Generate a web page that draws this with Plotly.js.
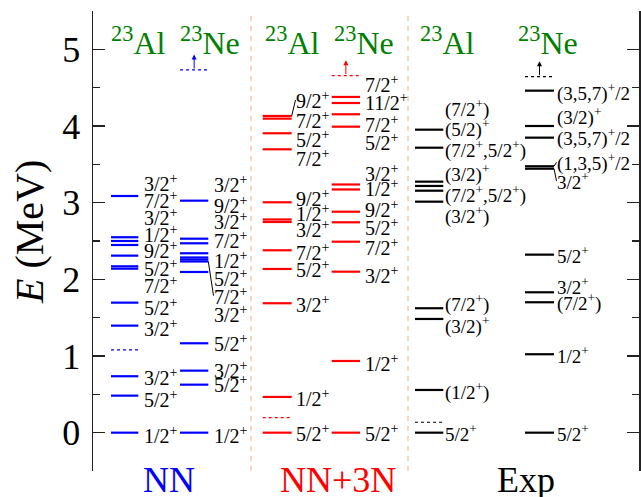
<!DOCTYPE html>
<html><head><meta charset="utf-8">
<script src="https://cdn.plot.ly/plotly-3.0.1.min.js"></script>
<style>html,body{margin:0;padding:0;background:#fff}#chart{width:641px;height:497px}</style>
</head><body><div id="chart"></div>
<script>
// ---------------- data (MeV) ----------------
// NN, 23Al
const nnAlE      = [0, 0.483, 0.736, 1.396, 1.696, 2.139, 2.170, 2.309, 2.448, 2.500, 2.549, 3.087];
const nnAlJ      = ['1/2+','5/2+','3/2+','3/2+','5/2+','7/2+','5/2+','9/2+','1/2+','3/2+','7/2+','3/2+'];
const nnAlLabelE = [-0.03, 0.443, 0.730, 1.362, 1.643, 1.926, 2.144, 2.383, 2.588, 2.813, 3.035, 3.257];
const nnAlThr = 1.079;
// NN, 23Ne
const nnNeE      = [0, 0.626, 0.809, 1.166, 2.096, 2.233, 2.259, 2.285, 2.340, 2.470, 2.530, 3.026];
const nnNeJ      = ['1/2+','5/2+','3/2+','5/2+','3/2+','7/2+','5/2+','1/2+','7/2+','3/2+','9/2+','3/2+'];
const nnNeLabelE = [-0.03, 0.631, 0.818, 1.174, 1.552, 1.787, 2.022, 2.256, 2.513, 2.765, 2.970, 3.248];
const nnNeThr = 4.731;
// NN+3N, 23Al
const n3AlE      = [0, 0.466, 1.688, 2.135, 2.379, 2.748, 2.781, 3.005, 3.696, 3.905, 4.096, 4.131];
const n3AlJ      = ['5/2+','1/2+','3/2+','5/2+','7/2+','3/2+','1/2+','9/2+','7/2+','5/2+','7/2+','9/2+'];
const n3AlLabelE = [-0.004, 0.456, 1.683, 2.135, 2.353, 2.653, 2.862, 3.057, 3.587, 3.831, 4.079, 4.339];
const n3AlThr = 0.196;
// NN+3N, 23Ne
const n3NeE      = [0, 0.935, 2.100, 2.491, 2.744, 2.882, 3.172, 3.237, 3.991, 4.153, 4.300, 4.379];
const n3NeJ      = ['5/2+','1/2+','3/2+','7/2+','5/2+','9/2+','1/2+','3/2+','5/2+','7/2+','11/2+','7/2+'];
const n3NeLabelE = [-0.004, 0.905, 2.057, 2.422, 2.683, 2.922, 3.188, 3.383, 3.792, 4.030, 4.317, 4.552];
const n3NeThr = 4.656;
// Exp, 23Al
const expAlE      = [0, 0.557, 1.483, 1.623, 3.013, 3.156, 3.218, 3.274, 3.717, 3.952];
const expAlJ      = ['5/2+','(1/2+)','(3/2)+','(7/2+)','(3/2+)','(7/2+,5/2+)','(3/2)+','(7/2+,5/2+)','(5/2)+','(7/2+)'];
const expAlLabelE = [-0.008, 0.535, 1.401, 1.679, 2.830, 3.109, 3.374, 3.700, 3.965, 4.222];
const expAlThr = 0.136;
// Exp, 23Ne
const expNeE      = [0, 1.023, 1.701, 1.831, 2.322, 3.443, 3.475, 3.848, 4.000, 4.461];
const expNeJ      = ['5/2+','1/2+','(7/2+)','3/2+','5/2+','3/2+','(1,3,5)+/2','(3,5,7)+/2','(3/2)+','(3,5,7)+/2'];
const expNeLabelE = [-0.008, 1.013, 1.701, 1.917, 2.318, 3.283, 3.527, 3.853, 4.118, 4.440];
const expNeThr = 4.643;

const yTicks = [0, 1, 2, 3, 4, 5];
const groupNames = ['NN', 'NN+3N', 'Exp'];
const nucleusNames = ['<sup>23</sup>Al', '<sup>23</sup>Ne'];

// ---------------- layout config ----------------
const FONT = 'Liberation Serif, Times New Roman, serif';
const BLUE = '#0000ff', RED = '#ff0000', BLACK = '#000000', GREEN = '#008000';
const cols = [
  {E: nnAlE, J: nnAlJ, L: nnAlLabelE, thr: nnAlThr, arrow: false, x0: 18,  x1: 45.3, lx: 50,  color: BLUE,  fs: 20, links: [], head: 45},
  {E: nnNeE, J: nnNeJ, L: nnNeLabelE, thr: nnNeThr, arrow: true,  x0: 87,  x1: 115.3, lx: 120, color: BLUE, fs: 20, links: [5], head: 117},
  {E: n3AlE, J: n3AlJ, L: n3AlLabelE, thr: n3AlThr, arrow: false, x0: 169.7, x1: 198.7, lx: 202, color: RED, fs: 20, links: [11], head: 199},
  {E: n3NeE, J: n3NeJ, L: n3NeLabelE, thr: n3NeThr, arrow: true,  x0: 238.7, x1: 267, lx: 271, color: RED,  fs: 20, links: [], head: 271},
  {E: expAlE, J: expAlJ, L: expAlLabelE, thr: expAlThr, arrow: false, x0: 322, x1: 350.3, lx: 351, color: BLACK, fs: 19, links: [], head: 354},
  {E: expNeE, J: expNeJ, L: expNeLabelE, thr: expNeThr, arrow: true,  x0: 432, x1: 461, lx: 463, color: BLACK, fs: 19, links: [5, 6], head: 455}
];
const groupX = [76, 245, 433];
const sepX = [158, 315];
const ARROW_LEN = 0.2;

function jp(s) { return s.replace(/\+/g, '<sup>+</sup>'); }

const traces = [];
const annotations = [];
cols.forEach((c, ci) => {
  const xs = [], ys = [];
  c.E.forEach(e => { xs.push(c.x0, c.x1, null); ys.push(e, e, null); });
  traces.push({x: xs, y: ys, mode: 'lines', line: {color: c.color, width: 2.2}, hoverinfo: 'skip', showlegend: false});
  traces.push({x: [c.x0, c.x1], y: [c.thr, c.thr], mode: 'lines', line: {color: c.color, width: 1.2, dash: 'dot'}, hoverinfo: 'skip', showlegend: false});
  if (c.links.length) {
    const lx = [], ly = [];
    c.links.forEach(i => { lx.push(c.x1, c.lx + 0.5, null); ly.push(c.E[i], c.L[i], null); });
    traces.push({x: lx, y: ly, mode: 'lines', line: {color: '#000', width: 1}, hoverinfo: 'skip', showlegend: false});
  }
  c.J.forEach((j, i) => {
    annotations.push({x: c.lx, y: c.L[i], xref: 'x', yref: 'y', text: jp(j), showarrow: false,
      xanchor: 'left', yanchor: 'middle', font: {family: FONT, size: c.fs, color: '#000'}, borderpad: 0});
  });
  if (c.arrow) {
    const xm = (c.x0 + c.x1) / 2;
    annotations.push({x: xm, y: c.thr + ARROW_LEN, ax: xm, ay: c.thr, xref: 'x', yref: 'y', axref: 'x', ayref: 'y',
      text: '', showarrow: true, arrowhead: 2, arrowsize: 1, arrowwidth: 1, arrowcolor: c.color, standoff: 0, startstandoff: 0});
  }
  annotations.push({x: c.head, y: 0.935, xref: 'x', yref: 'paper', text: nucleusNames[ci % 2], showarrow: false,
    xanchor: 'center', yanchor: 'middle', font: {family: FONT, size: 32, color: GREEN}});
});
const groupColors = [BLUE, RED, BLACK];
groupNames.forEach((g, i) => {
  annotations.push({x: groupX[i], y: -0.02, xref: 'x', yref: 'paper', text: g, showarrow: false,
    xanchor: 'center', yanchor: 'middle', font: {family: FONT, size: 36, color: groupColors[i]}});
});
annotations.push({x: -0.115, y: 0.52, xref: 'paper', yref: 'paper', text: '<i>E</i> (MeV)', textangle: -90,
  showarrow: false, xanchor: 'center', yanchor: 'middle', font: {family: FONT, size: 40, color: '#000'}});

const shapes = sepX.map(x => ({type: 'line', xref: 'x', yref: 'paper', x0: x, x1: x, y0: 0, y1: 1,
  line: {color: 'rgb(246,202,168)', width: 1.5, dash: '5px,5px'}}));

const layout = {
  width: 641, height: 497,
  margin: {l: 93, r: 2, t: 11, b: 26},
  paper_bgcolor: '#fff', plot_bgcolor: '#fff',
  showlegend: false,
  xaxis: {range: [0, 546], visible: false, fixedrange: true},
  yaxis: {range: [-0.5, 5.5], tickvals: yTicks, ticktext: yTicks.map(String), ticks: 'inside', ticklen: 12, tickwidth: 1.5,
    tickcolor: '#222', showline: true, linewidth: 1.5, linecolor: '#222', mirror: 'ticks', zeroline: false, showgrid: false,
    tickfont: {family: FONT, size: 36, color: '#000'}, ticklabelstandoff: 4, fixedrange: true,
    minor: {tickvals: [-0.5, 0.5, 1.5, 2.5, 3.5, 4.5, 5.5], ticks: 'inside', ticklen: 7, tickwidth: 1.5, tickcolor: '#222', showgrid: false}},
  annotations: annotations,
  shapes: shapes
};
Plotly.newPlot('chart', traces, layout, {displayModeBar: false, staticPlot: true});
</script></body></html>
